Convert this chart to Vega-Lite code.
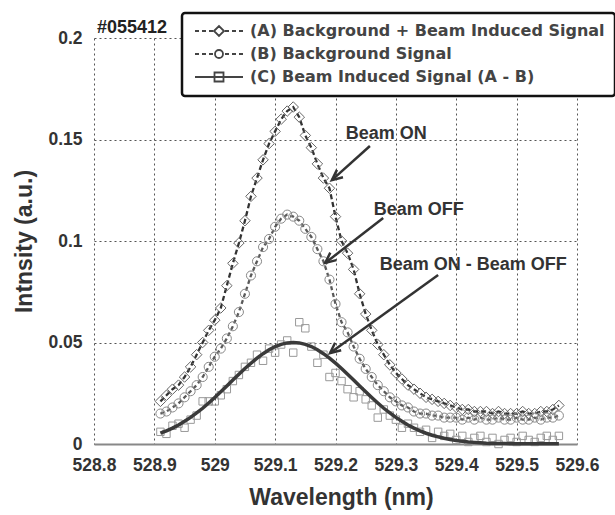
{
  "$schema": "https://vega.github.io/schema/vega-lite/v6.json",
  "width": 483,
  "height": 406,
  "autosize": {"type": "none"},
  "padding": {"left": 94, "top": 38, "right": 38, "bottom": 71},
  "background": "white",
  "config": {
    "view": {"stroke": null},
    "axis": {
      "labelFont": "Liberation Sans", "labelFontSize": 17, "labelFontWeight": "bold", "labelColor": "#333",
      "titleFont": "Liberation Sans", "titleFontSize": 23, "titleFontWeight": "bold", "titleColor": "#333",
      "grid": true, "gridColor": "#555", "gridDash": [2, 3], "gridWidth": 1, "gridOpacity": 1,
      "ticks": false, "labelOverlap": false, "labelFlush": false
    },
    "legend": {
      "orient": "none", "legendX": 88, "legendY": -25, "padding": 10,
      "strokeColor": "#111", "strokeWidth": 2.5, "cornerRadius": 3, "fillColor": "white",
      "labelFont": "DejaVu Sans", "labelFontSize": 16, "labelFontWeight": "bold", "labelColor": "#444",
      "labelLimit": 600, "rowPadding": 6, "symbolSize": 100, "symbolStrokeWidth": 1.8,
      "symbolFillColor": "transparent", "symbolStrokeColor": "#444", "symbolOffset": 0, "labelOffset": 42
    }
  },
  "datasets": {
    "spec": [
      {"x": 528.91, "A": 0.021, "B": 0.015, "C": 0.006, "F": 0.0053},
      {"x": 528.92, "A": 0.024, "B": 0.016, "C": 0.005, "F": 0.0065},
      {"x": 528.93, "A": 0.027, "B": 0.018, "C": 0.009, "F": 0.0078},
      {"x": 528.94, "A": 0.029, "B": 0.020, "C": 0.010, "F": 0.0094},
      {"x": 528.95, "A": 0.033, "B": 0.023, "C": 0.008, "F": 0.0112},
      {"x": 528.96, "A": 0.038, "B": 0.026, "C": 0.012, "F": 0.0131},
      {"x": 528.97, "A": 0.044, "B": 0.029, "C": 0.014, "F": 0.0153},
      {"x": 528.98, "A": 0.050, "B": 0.033, "C": 0.021, "F": 0.0176},
      {"x": 528.99, "A": 0.056, "B": 0.038, "C": 0.021, "F": 0.0202},
      {"x": 529.00, "A": 0.061, "B": 0.043, "C": 0.021, "F": 0.0229},
      {"x": 529.01, "A": 0.067, "B": 0.047, "C": 0.024, "F": 0.0257},
      {"x": 529.02, "A": 0.078, "B": 0.052, "C": 0.027, "F": 0.0286},
      {"x": 529.03, "A": 0.089, "B": 0.058, "C": 0.031, "F": 0.0315},
      {"x": 529.04, "A": 0.099, "B": 0.065, "C": 0.034, "F": 0.0344},
      {"x": 529.05, "A": 0.110, "B": 0.074, "C": 0.038, "F": 0.0372},
      {"x": 529.06, "A": 0.122, "B": 0.083, "C": 0.040, "F": 0.0398},
      {"x": 529.07, "A": 0.131, "B": 0.090, "C": 0.044, "F": 0.0423},
      {"x": 529.08, "A": 0.140, "B": 0.097, "C": 0.041, "F": 0.0445},
      {"x": 529.09, "A": 0.148, "B": 0.101, "C": 0.047, "F": 0.0464},
      {"x": 529.10, "A": 0.154, "B": 0.107, "C": 0.045, "F": 0.0480},
      {"x": 529.11, "A": 0.160, "B": 0.111, "C": 0.049, "F": 0.0491},
      {"x": 529.12, "A": 0.164, "B": 0.113, "C": 0.051, "F": 0.0498},
      {"x": 529.13, "A": 0.166, "B": 0.112, "C": 0.045, "F": 0.0500},
      {"x": 529.14, "A": 0.161, "B": 0.110, "C": 0.060, "F": 0.0498},
      {"x": 529.15, "A": 0.152, "B": 0.106, "C": 0.057, "F": 0.0491},
      {"x": 529.16, "A": 0.146, "B": 0.102, "C": 0.048, "F": 0.0480},
      {"x": 529.17, "A": 0.138, "B": 0.096, "C": 0.040, "F": 0.0464},
      {"x": 529.18, "A": 0.131, "B": 0.090, "C": 0.044, "F": 0.0445},
      {"x": 529.19, "A": 0.126, "B": 0.081, "C": 0.033, "F": 0.0423},
      {"x": 529.20, "A": 0.112, "B": 0.069, "C": 0.035, "F": 0.0398},
      {"x": 529.21, "A": 0.100, "B": 0.060, "C": 0.031, "F": 0.0372},
      {"x": 529.22, "A": 0.094, "B": 0.055, "C": 0.027, "F": 0.0344},
      {"x": 529.23, "A": 0.086, "B": 0.048, "C": 0.023, "F": 0.0315},
      {"x": 529.24, "A": 0.074, "B": 0.042, "C": 0.026, "F": 0.0286},
      {"x": 529.25, "A": 0.064, "B": 0.037, "C": 0.022, "F": 0.0257},
      {"x": 529.26, "A": 0.056, "B": 0.033, "C": 0.019, "F": 0.0229},
      {"x": 529.27, "A": 0.049, "B": 0.029, "C": 0.013, "F": 0.0202},
      {"x": 529.28, "A": 0.044, "B": 0.026, "C": 0.017, "F": 0.0176},
      {"x": 529.29, "A": 0.039, "B": 0.023, "C": 0.014, "F": 0.0153},
      {"x": 529.30, "A": 0.035, "B": 0.021, "C": 0.012, "F": 0.0131},
      {"x": 529.31, "A": 0.032, "B": 0.019, "C": 0.008, "F": 0.0112},
      {"x": 529.32, "A": 0.029, "B": 0.018, "C": 0.010, "F": 0.0094},
      {"x": 529.33, "A": 0.027, "B": 0.016, "C": 0.008, "F": 0.0078},
      {"x": 529.34, "A": 0.025, "B": 0.015, "C": 0.006, "F": 0.0065},
      {"x": 529.35, "A": 0.023, "B": 0.015, "C": 0.007, "F": 0.0053},
      {"x": 529.36, "A": 0.022, "B": 0.014, "C": 0.003, "F": 0.0043},
      {"x": 529.37, "A": 0.021, "B": 0.014, "C": 0.006, "F": 0.0035},
      {"x": 529.38, "A": 0.020, "B": 0.013, "C": 0.004, "F": 0.0028},
      {"x": 529.39, "A": 0.019, "B": 0.013, "C": 0.005, "F": 0.0022},
      {"x": 529.40, "A": 0.018, "B": 0.013, "C": 0.002, "F": 0.0017},
      {"x": 529.41, "A": 0.017, "B": 0.012, "C": 0.004, "F": 0.0013},
      {"x": 529.42, "A": 0.017, "B": 0.013, "C": 0.001, "F": 0.0010},
      {"x": 529.43, "A": 0.016, "B": 0.012, "C": 0.003, "F": 0.0008},
      {"x": 529.44, "A": 0.016, "B": 0.013, "C": 0.004, "F": 0.0006},
      {"x": 529.45, "A": 0.016, "B": 0.012, "C": 0.001, "F": 0.0004},
      {"x": 529.46, "A": 0.015, "B": 0.012, "C": 0.003, "F": 0.0003},
      {"x": 529.47, "A": 0.016, "B": 0.013, "C": 0.000, "F": 0.0002},
      {"x": 529.48, "A": 0.015, "B": 0.012, "C": 0.002, "F": 0.0002},
      {"x": 529.49, "A": 0.015, "B": 0.012, "C": 0.003, "F": 0.0001},
      {"x": 529.50, "A": 0.015, "B": 0.013, "C": 0.001, "F": 0.0001},
      {"x": 529.51, "A": 0.016, "B": 0.012, "C": 0.004, "F": 0.0001},
      {"x": 529.52, "A": 0.015, "B": 0.012, "C": 0.002, "F": 0.0001},
      {"x": 529.53, "A": 0.015, "B": 0.013, "C": 0.001, "F": 0.0001},
      {"x": 529.54, "A": 0.016, "B": 0.012, "C": 0.003, "F": 0.0001},
      {"x": 529.55, "A": 0.016, "B": 0.013, "C": 0.004, "F": 0.0001},
      {"x": 529.56, "A": 0.017, "B": 0.013, "C": 0.002, "F": 0.0001},
      {"x": 529.57, "A": 0.019, "B": 0.014, "C": 0.004, "F": 0.0001}
    ],
    "legendRows": [
      {"s": "(A) Background + Beam Induced Signal"},
      {"s": "(B) Background Signal"},
      {"s": "(C) Beam Induced Signal (A - B)"}
    ],
    "arrows": [
      {"x": 529.257, "y": 0.1468, "x2": 529.194, "y2": 0.130},
      {"x": 529.279, "y": 0.1113, "x2": 529.183, "y2": 0.0892},
      {"x": 529.370, "y": 0.0833, "x2": 529.191, "y2": 0.0448}
    ],
    "notes": [
      {"label": "Beam ON", "x": 529.284, "y": 0.1527},
      {"label": "Beam OFF", "x": 529.338, "y": 0.1153},
      {"label": "Beam ON - Beam OFF", "x": 529.428, "y": 0.0882}
    ],
    "tag": [
      {"label": "#055412", "x": 528.8, "y": 0.2}
    ]
  },
  "resolve": {"scale": {"shape": "independent", "color": "independent", "size": "independent"}},
  "layer": [
    {
      "data": {"name": "spec"},
      "transform": [{"fold": ["A", "B"], "as": ["series", "value"]}],
      "mark": {"type": "line", "strokeWidth": 2.3},
      "encoding": {
        "x": {"field": "x", "type": "quantitative", "scale": {"domain": [528.8, 529.6], "nice": false, "zero": false},
          "axis": {"values": [528.8, 528.9, 529, 529.1, 529.2, 529.3, 529.4, 529.5, 529.6], "format": "~g", "title": "Wavelength (nm)", "labelPadding": 12, "labelFontSize": 17.5, "domainColor": "#888", "domainWidth": 2, "titleX": 247, "titleY": 53, "titleBaseline": "middle", "grid": true}},
        "y": {"field": "value", "type": "quantitative", "scale": {"domain": [0, 0.2], "nice": false},
          "axis": {"values": [0, 0.05, 0.1, 0.15, 0.2], "format": "~g", "title": "Intnsity (a.u.)", "labelPadding": 12, "labelFontSize": 17.5, "domain": false, "titleX": -70, "titleY": 203, "titleBaseline": "middle", "titleAlign": "center", "titleAngle": 270, "grid": true}},
        "color": {"field": "series", "type": "nominal", "scale": {"domain": ["A", "B"], "range": ["#333", "#5a5a5a"]}, "legend": null},
        "strokeDash": {"field": "series", "type": "nominal", "scale": {"domain": ["A", "B"], "range": [[5, 3], [4, 3]]}, "legend": null}
      }
    },
    {
      "data": {"name": "spec"},
      "transform": [{"fold": ["A", "B", "C"], "as": ["series", "value"]}],
      "mark": {"type": "point", "filled": false, "strokeWidth": 1, "opacity": 1},
      "encoding": {
        "x": {"field": "x", "type": "quantitative"},
        "y": {"field": "value", "type": "quantitative"},
        "shape": {"field": "series", "type": "nominal", "scale": {"domain": ["A", "B", "C"], "range": ["diamond", "circle", "square"]}, "legend": null},
        "color": {"field": "series", "type": "nominal", "scale": {"domain": ["A", "B", "C"], "range": ["#666", "#888", "#999"]}, "legend": null},
        "size": {"field": "series", "type": "nominal", "scale": {"domain": ["A", "B", "C"], "range": [110, 55, 100]}, "legend": null}
      }
    },
    {
      "data": {"name": "spec"},
      "mark": {"type": "line", "color": "#3a3a3a", "strokeWidth": 3.5},
      "encoding": {
        "x": {"field": "x", "type": "quantitative"},
        "y": {"field": "F", "type": "quantitative"}
      }
    },
    {
      "mark": {"type": "rule", "color": "#777", "strokeWidth": 1.5},
      "encoding": {"x": {"datum": 529.6, "type": "quantitative"}}
    },
    {
      "data": {"name": "arrows"},
      "mark": {"type": "rule", "color": "#333", "strokeWidth": 2.5},
      "encoding": {
        "x": {"field": "x", "type": "quantitative"},
        "y": {"field": "y", "type": "quantitative"},
        "x2": {"field": "x2"},
        "y2": {"field": "y2"}
      }
    },
    {
      "data": {"name": "arrows"},
      "mark": {"type": "point", "shape": "M-0.6,1.3L0,0L0.6,1.3", "filled": false, "stroke": "#333", "strokeWidth": 2.5, "size": 256, "angle": 231, "opacity": 1},
      "encoding": {
        "x": {"field": "x2", "type": "quantitative"},
        "y": {"field": "y2", "type": "quantitative"}
      }
    },
    {
      "data": {"name": "notes"},
      "mark": {"type": "text", "font": "Liberation Sans", "fontSize": 18, "fontWeight": "bold", "color": "#333", "align": "center", "baseline": "middle"},
      "encoding": {
        "x": {"field": "x", "type": "quantitative"},
        "y": {"field": "y", "type": "quantitative"},
        "text": {"field": "label", "type": "nominal"}
      }
    },
    {
      "data": {"name": "tag"},
      "mark": {"type": "text", "font": "Liberation Sans", "fontSize": 18, "fontWeight": "bold", "color": "#222", "align": "left", "baseline": "alphabetic", "dx": 3, "dy": -5},
      "encoding": {
        "x": {"field": "x", "type": "quantitative"},
        "y": {"field": "y", "type": "quantitative"},
        "text": {"field": "label", "type": "nominal"}
      }
    },
    {
      "data": {"name": "legendRows"},
      "transform": [{"filter": "datum.s == 'none'"}],
      "mark": {"type": "point", "filled": false, "color": "#444", "size": 100, "strokeWidth": 1.8, "opacity": 1},
      "encoding": {
        "shape": {"field": "s", "type": "nominal",
          "scale": {"domain": ["(A) Background + Beam Induced Signal", "(B) Background Signal", "(C) Beam Induced Signal (A - B)"],
            "range": [
              "M-1,0L-0.2,0M0.4,0L1.2,0M1.8,0L2.6,0M2.8,0L3.8,-1L4.8,0L3.8,1Z M5,0L5.8,0M6.4,0L7.2,0M7.8,0L8.6,0",
              "M-1,0L-0.2,0M0.4,0L1.2,0M1.8,0L2.6,0M4.6,0A0.8,0.8,0,1,1,3.0,0A0.8,0.8,0,1,1,4.6,0M5,0L5.8,0M6.4,0L7.2,0M7.8,0L8.6,0",
              "M-1,0L8.6,0M2.9,-0.9L4.7,-0.9L4.7,0.9L2.9,0.9Z"
            ]},
          "legend": {"title": null}}
      }
    }
  ]
}
